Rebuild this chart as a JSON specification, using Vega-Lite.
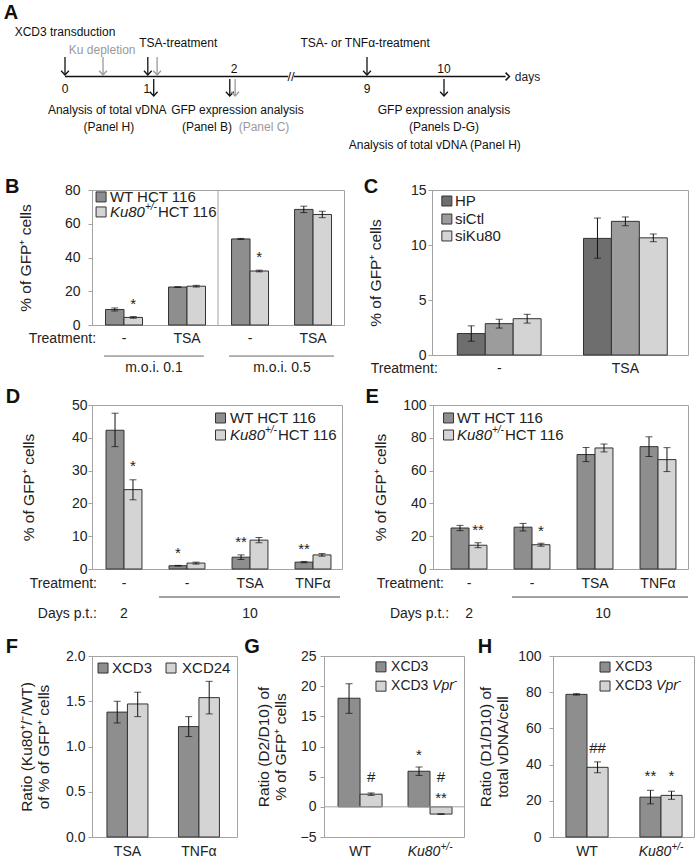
{
"$schema": "https://vega.github.io/schema/vega-lite/v6.json",
"padding": {"left": 3, "top": 0, "right": 0, "bottom": 0},
"columns": 1, "spacing": 23,
"resolve": {"scale": {"color": "independent"}},
"config": {
  "font": "Liberation Sans",
  "view": {"stroke": "#a3a3a3", "strokeWidth": 1},
  "axis": {"labelFont": "Liberation Sans", "labelFontSize": 14, "labelColor": "#222", "labelOverlap": false, "domainColor": "#a3a3a3", "tickColor": "#a3a3a3", "tickSize": 4, "grid": false, "titleFont": "Liberation Sans", "titleFontSize": 15.5, "titleFontWeight": "normal", "titleColor": "#222", "titleLineHeight": 17},
  "text": {"font": "Liberation Sans", "fontSize": 14, "color": "#222"},
  "bar": {"stroke": "#333", "strokeWidth": 1},
  "rule": {"color": "#111"},
  "tick": {"color": "#111"},
  "point": {"shape": "square", "filled": true, "size": 100, "stroke": "#333", "strokeWidth": 1, "opacity": 1}
},
"datasets": {
  "aArr": [
    {"d": 0, "l0": 1.15, "l1": 0.09, "c": "k"}, {"d": 0.45, "l0": 1.15, "l1": 0.09, "c": "g"},
    {"d": 0.98, "l0": 1.15, "l1": 0.09, "c": "k"}, {"d": 1.09, "l0": 1.15, "l1": 0.09, "c": "g"},
    {"d": 9, "l0": 1.15, "l1": 0.09, "c": "k"},
    {"d": 1.05, "l0": -0.15, "l1": -1.15, "c": "k"}, {"d": 1.95, "l0": -0.15, "l1": -1.15, "c": "k"},
    {"d": 2.06, "l0": -0.15, "l1": -1.15, "c": "g"}, {"d": 10, "l0": -0.15, "l1": -1.15, "c": "k"}
  ],
  "aTxt": [
    {"d": 0, "l": 2.62, "t": "XCD3 transduction", "c": "k"},
    {"d": 0.44, "l": 1.56, "t": "Ku depletion", "c": "g"},
    {"d": 1.34, "l": 1.97, "t": "TSA-treatment", "c": "k"},
    {"d": 8.9, "l": 1.97, "t": "TSA- or TNFα-treatment", "c": "k"},
    {"d": 0, "l": -0.74, "t": "0", "c": "k"},
    {"d": 0.97, "l": -0.74, "t": "1", "c": "k"},
    {"d": 2, "l": 0.44, "t": "2", "c": "k"},
    {"d": 9, "l": -0.74, "t": "9", "c": "k"},
    {"d": 10, "l": 0.44, "t": "10", "c": "k"},
    {"d": 0.5, "l": -1.97, "t": "Analysis of total vDNA", "c": "k"},
    {"d": 0.52, "l": -2.97, "t": "(Panel H)", "c": "k"},
    {"d": 2.18, "l": -1.97, "t": "GFP expression analysis", "c": "k"},
    {"d": 1.68, "l": -2.97, "t": "(Panel B)", "c": "k"},
    {"d": 3.58, "l": -2.97, "t": "(Panel C)", "c": "g"},
    {"d": 10, "l": -1.97, "t": "GFP expression analysis", "c": "k"},
    {"d": 10, "l": -2.97, "t": "(Panels D-G)", "c": "k"},
    {"d": 9.88, "l": -4.03, "t": "Analysis of total vDNA (Panel H)", "c": "k"}
  ],
  "bB": [
    {"g": "a", "s": "WT", "v": 9.2, "lo": 8.3, "hi": 10.1}, {"g": "a", "s": "Ku", "v": 4.5, "lo": 4.0, "hi": 5.0},
    {"g": "b", "s": "WT", "v": 22.5, "lo": 22.3, "hi": 22.7}, {"g": "b", "s": "Ku", "v": 23.0, "lo": 22.5, "hi": 23.5},
    {"g": "c", "s": "WT", "v": 51.0, "lo": 50.7, "hi": 51.3}, {"g": "c", "s": "Ku", "v": 32.0, "lo": 31.5, "hi": 32.5},
    {"g": "d", "s": "WT", "v": 68.5, "lo": 66.6, "hi": 70.4}, {"g": "d", "s": "Ku", "v": 65.5, "lo": 63.6, "hi": 67.4}
  ],
  "cB": [
    {"g": "neg", "s": "HP", "v": 1.95, "lo": 1.25, "hi": 2.65}, {"g": "neg", "s": "siCtl", "v": 2.85, "lo": 2.45, "hi": 3.25},
    {"g": "neg", "s": "siKu80", "v": 3.3, "lo": 2.9, "hi": 3.7},
    {"g": "tsa", "s": "HP", "v": 10.6, "lo": 8.8, "hi": 12.45}, {"g": "tsa", "s": "siCtl", "v": 12.15, "lo": 11.75, "hi": 12.55},
    {"g": "tsa", "s": "siKu80", "v": 10.65, "lo": 10.3, "hi": 11.0}
  ],
  "dB": [
    {"g": "a", "s": "WT", "v": 42.3, "lo": 37.3, "hi": 47.5}, {"g": "a", "s": "Ku", "v": 24.2, "lo": 21.1, "hi": 27.2},
    {"g": "b", "s": "WT", "v": 1.0, "lo": 0.9, "hi": 1.1}, {"g": "b", "s": "Ku", "v": 1.8, "lo": 1.5, "hi": 2.1},
    {"g": "c", "s": "WT", "v": 3.6, "lo": 2.9, "hi": 4.3}, {"g": "c", "s": "Ku", "v": 8.8, "lo": 8.0, "hi": 9.6},
    {"g": "d", "s": "WT", "v": 2.1, "lo": 1.9, "hi": 2.3}, {"g": "d", "s": "Ku", "v": 4.3, "lo": 3.9, "hi": 4.7}
  ],
  "eB": [
    {"g": "a", "s": "WT", "v": 25.0, "lo": 23.4, "hi": 26.6}, {"g": "a", "s": "Ku", "v": 14.5, "lo": 13.0, "hi": 16.0},
    {"g": "b", "s": "WT", "v": 25.5, "lo": 23.2, "hi": 27.8}, {"g": "b", "s": "Ku", "v": 14.8, "lo": 13.9, "hi": 15.7},
    {"g": "c", "s": "WT", "v": 69.8, "lo": 65.5, "hi": 74.1}, {"g": "c", "s": "Ku", "v": 73.8, "lo": 71.4, "hi": 76.2},
    {"g": "d", "s": "WT", "v": 74.6, "lo": 68.6, "hi": 80.6}, {"g": "d", "s": "Ku", "v": 66.7, "lo": 59.4, "hi": 74.0}
  ],
  "fB": [
    {"g": "tsa", "s": "XCD3", "v": 1.38, "lo": 1.26, "hi": 1.50}, {"g": "tsa", "s": "XCD24", "v": 1.47, "lo": 1.33, "hi": 1.60},
    {"g": "tnf", "s": "XCD3", "v": 1.22, "lo": 1.11, "hi": 1.33}, {"g": "tnf", "s": "XCD24", "v": 1.54, "lo": 1.36, "hi": 1.72}
  ],
  "gB": [
    {"g": "wt", "s": "XCD3", "v": 18.0, "lo": 15.5, "hi": 20.4}, {"g": "wt", "s": "Vpr", "v": 2.1, "lo": 1.9, "hi": 2.3},
    {"g": "ku", "s": "XCD3", "v": 5.9, "lo": 5.2, "hi": 6.6}, {"g": "ku", "s": "Vpr", "v": -1.2, "lo": -1.25, "hi": -1.15}
  ],
  "hB": [
    {"g": "wt", "s": "XCD3", "v": 78.8, "lo": 78.4, "hi": 79.2}, {"g": "wt", "s": "Vpr", "v": 38.5, "lo": 35.5, "hi": 41.5},
    {"g": "ku", "s": "XCD3", "v": 22.0, "lo": 18.3, "hi": 25.8}, {"g": "ku", "s": "Vpr", "v": 23.0, "lo": 20.8, "hi": 25.3}
  ]
},
"concat": [
{
  "width": 607, "height": 153,
  "view": {"stroke": null},
  "layer": [
    {"data": {"values": [{"d0": 0, "d1": 4.85}, {"d0": 5.15, "d1": 10.8}]},
     "mark": {"type": "rule", "strokeWidth": 1.6, "color": "#111"},
     "encoding": {
       "x": {"field": "d0", "type": "quantitative", "scale": {"domain": [0, 2, 9, 10], "range": [-27, 142, 275, 352], "nice": false, "zero": false}, "axis": null},
       "x2": {"field": "d1"},
       "y": {"datum": 0, "type": "quantitative", "scale": {"domain": [-4.5, 4.5], "nice": false, "zero": false}, "axis": null}}},
    {"data": {"name": "aArr"}, "mark": {"type": "rule", "strokeWidth": 1.3},
     "encoding": {
       "x": {"field": "d", "type": "quantitative", "axis": null},
       "y": {"field": "l0", "type": "quantitative", "axis": null}, "y2": {"field": "l1"},
       "color": {"field": "c", "type": "nominal", "scale": {"domain": ["k", "g"], "range": ["#111", "#9a9a9a"]}, "legend": null}}},
    {"data": {"name": "aArr"}, "mark": {"type": "point", "shape": "M-1,-1.1L0,0L1,-1.1", "filled": false, "size": 60, "strokeWidth": 1.3, "opacity": 1},
     "encoding": {
       "x": {"field": "d", "type": "quantitative", "axis": null},
       "y": {"field": "l1", "type": "quantitative", "axis": null},
       "color": {"field": "c", "type": "nominal", "legend": null}}},
    {"data": {"values": [{}]}, "mark": {"type": "point", "shape": "M-1,-1L0,0L-1,1", "filled": false, "size": 60, "strokeWidth": 1.5, "opacity": 1, "color": "#111"},
     "encoding": {"x": {"datum": 10.85, "axis": null}, "y": {"datum": 0, "axis": null}}},
    {"data": {"name": "aTxt"}, "mark": {"type": "text", "fontSize": 12},
     "encoding": {
       "x": {"field": "d", "type": "quantitative", "axis": null},
       "y": {"field": "l", "type": "quantitative", "axis": null},
       "text": {"field": "t"},
       "color": {"field": "c", "type": "nominal", "legend": null}}},
    {"data": {"values": [{}]}, "mark": {"type": "text", "align": "left", "text": "days", "fontSize": 12},
     "encoding": {"x": {"datum": 10.92, "axis": null}, "y": {"datum": 0, "axis": null}}},
    {"data": {"values": [{}]}, "mark": {"type": "text", "text": "//", "fontSize": 13, "color": "#111"},
     "encoding": {"x": {"datum": 5, "axis": null}, "y": {"datum": 0, "axis": null}}},
    {"data": {"values": [{}]}, "mark": {"type": "text", "text": "A", "fontSize": 20, "fontWeight": "bold", "color": "#111"},
     "encoding": {"x": {"datum": -0.64, "axis": null}, "y": {"datum": 3.74, "axis": null}}}
  ]
},
{
"columns": 1, "spacing": 9,
"resolve": {"scale": {"color": "independent"}},
"concat": [
{
"spacing": 18,
"resolve": {"scale": {"color": "independent"}},
"hconcat": [
{
  "width": 252, "height": 135,
  "resolve": {"scale": {"x": "independent", "xOffset": "independent"}, "axis": {"y": "independent"}},
  "layer": [
    {"data": {"name": "bB"}, "mark": "bar",
     "encoding": {
       "x": {"field": "g", "type": "nominal", "axis": null, "scale": {"type": "band", "domain": ["a", "b", "c", "d"], "paddingInner": 0.413, "paddingOuter": 0.206, "align": 0.52}},
       "xOffset": {"field": "s", "type": "nominal", "scale": {"type": "band", "domain": ["WT", "Ku"]}},
       "y": {"field": "v", "type": "quantitative", "scale": {"domain": [0, 80], "nice": false, "zero": false}, "axis": {"values": [0, 20, 40, 60, 80], "title": "% of GFP⁺ cells", "titlePadding": 31, "labelPadding": 8, "labelOverlap": false}},
       "color": {"field": "s", "type": "nominal", "scale": {"domain": ["WT", "Ku"], "range": ["#8e8e8e", "#d4d4d4"]}, "legend": null}}},
    {"data": {"name": "bB"}, "mark": "rule",
     "encoding": {
       "x": {"field": "g", "type": "nominal", "axis": null, "scale": {"type": "band", "domain": ["a", "b", "c", "d"], "paddingInner": 0.413, "paddingOuter": 0.206, "align": 0.52}},
       "xOffset": {"field": "s", "type": "nominal", "scale": {"type": "band", "domain": ["WT", "Ku"]}},
       "y": {"field": "lo", "type": "quantitative", "axis": null}, "y2": {"field": "hi"}}},
    {"data": {"name": "bB"}, "mark": {"type": "tick", "size": 7, "thickness": 1},
     "encoding": {
       "x": {"field": "g", "type": "nominal", "axis": null, "scale": {"type": "band", "domain": ["a", "b", "c", "d"], "paddingInner": 0.413, "paddingOuter": 0.206, "align": 0.52}},
       "xOffset": {"field": "s", "type": "nominal", "scale": {"type": "band", "domain": ["WT", "Ku"]}},
       "y": {"field": "lo", "type": "quantitative", "axis": null}}},
    {"data": {"name": "bB"}, "mark": {"type": "tick", "size": 7, "thickness": 1},
     "encoding": {
       "x": {"field": "g", "type": "nominal", "axis": null, "scale": {"type": "band", "domain": ["a", "b", "c", "d"], "paddingInner": 0.413, "paddingOuter": 0.206, "align": 0.52}},
       "xOffset": {"field": "s", "type": "nominal", "scale": {"type": "band", "domain": ["WT", "Ku"]}},
       "y": {"field": "hi", "type": "quantitative", "axis": null}}},
    {"data": {"values": [{"g": "a", "s": "Ku", "y": 12.4, "t": "*"}, {"g": "c", "s": "Ku", "y": 40.3, "t": "*"}]}, "mark": {"type": "text", "fontSize": 15},
     "encoding": {
       "x": {"field": "g", "type": "nominal", "axis": null, "scale": {"type": "band", "domain": ["a", "b", "c", "d"], "paddingInner": 0.413, "paddingOuter": 0.206, "align": 0.52}},
       "xOffset": {"field": "s", "type": "nominal", "scale": {"type": "band", "domain": ["WT", "Ku"]}},
       "y": {"field": "y", "type": "quantitative", "axis": null}, "text": {"field": "t"}}},
    {"data": {"values": [{"g": "a", "t": "-"}, {"g": "b", "t": "TSA"}, {"g": "c", "t": "-"}, {"g": "d", "t": "TSA"}]}, "mark": {"type": "text"},
     "encoding": {
       "x": {"field": "g", "type": "nominal", "axis": null, "scale": {"type": "band", "domain": ["a", "b", "c", "d"], "paddingInner": 0.413, "paddingOuter": 0.206, "align": 0.52}},
       "y": {"datum": -8.3, "axis": null}, "text": {"field": "t"}}},
    {"data": {"values": [{}]}, "mark": {"type": "rule", "color": "#a3a3a3"},
     "encoding": {"x": {"datum": 0.5, "type": "quantitative", "scale": {"domain": [0, 1], "nice": false, "zero": false}, "axis": null}, "y": {"datum": 0, "axis": null}, "y2": {"datum": 80}}},
    {"data": {"values": [{}]}, "mark": {"type": "rule", "color": "#666"},
     "encoding": {"x": {"datum": 0.048, "type": "quantitative", "scale": {"domain": [0, 1], "nice": false, "zero": false}, "axis": null}, "x2": {"datum": 0.444}, "y": {"datum": -18.4, "axis": null}}},
    {"data": {"values": [{}]}, "mark": {"type": "rule", "color": "#666"},
     "encoding": {"x": {"datum": 0.544, "type": "quantitative", "scale": {"domain": [0, 1], "nice": false, "zero": false}, "axis": null}, "x2": {"datum": 0.96}, "y": {"datum": -18.4, "axis": null}}},
    {"data": {"values": [{}]}, "mark": {"type": "text", "align": "right", "text": "Treatment:"},
     "encoding": {"x": {"datum": 0.016, "type": "quantitative", "scale": {"domain": [0, 1], "nice": false, "zero": false}, "axis": null}, "y": {"datum": -8.3, "axis": null}}},
    {"data": {"values": [{}]}, "mark": {"type": "text", "text": "m.o.i. 0.1"},
     "encoding": {"x": {"datum": 0.246, "type": "quantitative", "scale": {"domain": [0, 1], "nice": false, "zero": false}, "axis": null}, "y": {"datum": -25.5, "axis": null}}},
    {"data": {"values": [{}]}, "mark": {"type": "text", "text": "m.o.i. 0.5"},
     "encoding": {"x": {"datum": 0.754, "type": "quantitative", "scale": {"domain": [0, 1], "nice": false, "zero": false}, "axis": null}, "y": {"datum": -25.5, "axis": null}}},
    {"data": {"values": [{}]}, "mark": {"type": "text", "text": "B", "fontSize": 20, "fontWeight": "bold", "color": "#111"},
     "encoding": {"x": {"datum": -0.317, "type": "quantitative", "scale": {"domain": [0, 1], "nice": false, "zero": false}, "axis": null}, "y": {"datum": 81.8, "axis": null}}},
    {"data": {"values": [{}]}, "mark": "point",
     "encoding": {"x": {"datum": 0.036, "type": "quantitative", "scale": {"domain": [0, 1], "nice": false, "zero": false}, "axis": null}, "y": {"datum": 75.9, "axis": null}, "color": {"datum": "WT", "legend": null}}},
    {"data": {"values": [{}]}, "mark": "point",
     "encoding": {"x": {"datum": 0.036, "type": "quantitative", "scale": {"domain": [0, 1], "nice": false, "zero": false}, "axis": null}, "y": {"datum": 67.0, "axis": null}, "color": {"datum": "Ku", "legend": null}}},
    {"data": {"values": [{}]}, "mark": {"type": "text", "align": "left", "fontSize": 15, "text": "WT HCT 116"},
     "encoding": {"x": {"datum": 0.071, "type": "quantitative", "scale": {"domain": [0, 1], "nice": false, "zero": false}, "axis": null}, "y": {"datum": 75.9, "axis": null}}},
    {"data": {"values": [{}]}, "mark": {"type": "text", "align": "left", "fontSize": 15, "fontStyle": "italic", "text": "Ku80"},
     "encoding": {"x": {"datum": 0.071, "type": "quantitative", "scale": {"domain": [0, 1], "nice": false, "zero": false}, "axis": null}, "y": {"datum": 67.0, "axis": null}}},
    {"data": {"values": [{}]}, "mark": {"type": "text", "align": "left", "fontSize": 10, "fontStyle": "italic", "text": "+/-", "dx": 35, "dy": -5},
     "encoding": {"x": {"datum": 0.071, "type": "quantitative", "scale": {"domain": [0, 1], "nice": false, "zero": false}, "axis": null}, "y": {"datum": 67.0, "axis": null}}},
    {"data": {"values": [{}]}, "mark": {"type": "text", "align": "left", "fontSize": 15, "text": "HCT 116", "dx": 48},
     "encoding": {"x": {"datum": 0.071, "type": "quantitative", "scale": {"domain": [0, 1], "nice": false, "zero": false}, "axis": null}, "y": {"datum": 67.0, "axis": null}}}
  ]
},
{
  "width": 256, "height": 165,
  "resolve": {"scale": {"x": "independent", "xOffset": "independent"}, "axis": {"y": "independent"}},
  "layer": [
    {"data": {"name": "cB"}, "mark": "bar",
     "encoding": {
       "x": {"field": "g", "type": "nominal", "axis": null, "scale": {"type": "band", "domain": ["neg", "tsa"], "paddingInner": 0.336, "paddingOuter": 0.1825, "align": 0.55}},
       "xOffset": {"field": "s", "type": "nominal", "scale": {"type": "band", "domain": ["HP", "siCtl", "siKu80"]}},
       "y": {"field": "v", "type": "quantitative", "scale": {"domain": [0, 15], "nice": false, "zero": false}, "axis": {"values": [0, 5, 10, 15], "title": "% of GFP⁺ cells", "titlePadding": 27, "labelPadding": 2, "labelOverlap": false}},
       "color": {"field": "s", "type": "nominal", "scale": {"domain": ["HP", "siCtl", "siKu80"], "range": ["#6e6e6e", "#9c9c9c", "#d4d4d4"]}, "legend": null}}},
    {"data": {"name": "cB"}, "mark": "rule",
     "encoding": {
       "x": {"field": "g", "type": "nominal", "axis": null, "scale": {"type": "band", "domain": ["neg", "tsa"], "paddingInner": 0.336, "paddingOuter": 0.1825, "align": 0.55}},
       "xOffset": {"field": "s", "type": "nominal", "scale": {"type": "band", "domain": ["HP", "siCtl", "siKu80"]}},
       "y": {"field": "lo", "type": "quantitative", "axis": null}, "y2": {"field": "hi"}}},
    {"data": {"name": "cB"}, "mark": {"type": "tick", "size": 7, "thickness": 1},
     "encoding": {
       "x": {"field": "g", "type": "nominal", "axis": null, "scale": {"type": "band", "domain": ["neg", "tsa"], "paddingInner": 0.336, "paddingOuter": 0.1825, "align": 0.55}},
       "xOffset": {"field": "s", "type": "nominal", "scale": {"type": "band", "domain": ["HP", "siCtl", "siKu80"]}},
       "y": {"field": "lo", "type": "quantitative", "axis": null}}},
    {"data": {"name": "cB"}, "mark": {"type": "tick", "size": 7, "thickness": 1},
     "encoding": {
       "x": {"field": "g", "type": "nominal", "axis": null, "scale": {"type": "band", "domain": ["neg", "tsa"], "paddingInner": 0.336, "paddingOuter": 0.1825, "align": 0.55}},
       "xOffset": {"field": "s", "type": "nominal", "scale": {"type": "band", "domain": ["HP", "siCtl", "siKu80"]}},
       "y": {"field": "hi", "type": "quantitative", "axis": null}}},
    {"data": {"values": [{"g": "neg", "t": "-"}, {"g": "tsa", "t": "TSA"}]}, "mark": {"type": "text"},
     "encoding": {
       "x": {"field": "g", "type": "nominal", "axis": null, "scale": {"type": "band", "domain": ["neg", "tsa"], "paddingInner": 0.336, "paddingOuter": 0.1825, "align": 0.55}},
       "y": {"datum": -1.27, "axis": null}, "text": {"field": "t"}}},
    {"data": {"values": [{}]}, "mark": {"type": "text", "align": "right", "text": "Treatment:"},
     "encoding": {"x": {"datum": 0.023, "type": "quantitative", "scale": {"domain": [0, 1], "nice": false, "zero": false}, "axis": null}, "y": {"datum": -1.27, "axis": null}}},
    {"data": {"values": [{}]}, "mark": {"type": "text", "text": "C", "fontSize": 20, "fontWeight": "bold", "color": "#111"},
     "encoding": {"x": {"datum": -0.238, "type": "quantitative", "scale": {"domain": [0, 1], "nice": false, "zero": false}, "axis": null}, "y": {"datum": 15.27, "axis": null}}},
    {"data": {"values": [{}]}, "mark": "point",
     "encoding": {"x": {"datum": 0.058, "type": "quantitative", "scale": {"domain": [0, 1], "nice": false, "zero": false}, "axis": null}, "y": {"datum": 14.0, "axis": null}, "color": {"datum": "HP", "legend": null}}},
    {"data": {"values": [{}]}, "mark": "point",
     "encoding": {"x": {"datum": 0.058, "type": "quantitative", "scale": {"domain": [0, 1], "nice": false, "zero": false}, "axis": null}, "y": {"datum": 12.36, "axis": null}, "color": {"datum": "siCtl", "legend": null}}},
    {"data": {"values": [{}]}, "mark": "point",
     "encoding": {"x": {"datum": 0.058, "type": "quantitative", "scale": {"domain": [0, 1], "nice": false, "zero": false}, "axis": null}, "y": {"datum": 10.82, "axis": null}, "color": {"datum": "siKu80", "legend": null}}},
    {"data": {"values": [{}]}, "mark": {"type": "text", "align": "left", "fontSize": 15, "text": "HP"},
     "encoding": {"x": {"datum": 0.09, "type": "quantitative", "scale": {"domain": [0, 1], "nice": false, "zero": false}, "axis": null}, "y": {"datum": 14.0, "axis": null}}},
    {"data": {"values": [{}]}, "mark": {"type": "text", "align": "left", "fontSize": 15, "text": "siCtl"},
     "encoding": {"x": {"datum": 0.09, "type": "quantitative", "scale": {"domain": [0, 1], "nice": false, "zero": false}, "axis": null}, "y": {"datum": 12.36, "axis": null}}},
    {"data": {"values": [{}]}, "mark": {"type": "text", "align": "left", "fontSize": 15, "text": "siKu80"},
     "encoding": {"x": {"datum": 0.09, "type": "quantitative", "scale": {"domain": [0, 1], "nice": false, "zero": false}, "axis": null}, "y": {"datum": 10.82, "axis": null}}}
  ]
}
]
},
{
"columns": 1, "spacing": 14,
"resolve": {"scale": {"color": "independent"}},
"concat": [
{
"spacing": 21,
"resolve": {"scale": {"color": "independent"}},
"hconcat": [
{
  "width": 250, "height": 164,
  "resolve": {"scale": {"x": "independent", "xOffset": "independent"}, "axis": {"y": "independent"}},
  "layer": [
    {"data": {"name": "dB"}, "mark": "bar",
     "encoding": {
       "x": {"field": "g", "type": "nominal", "axis": null, "scale": {"type": "band", "domain": ["a", "b", "c", "d"], "paddingInner": 0.43, "paddingOuter": 0.199, "align": 0.56}},
       "xOffset": {"field": "s", "type": "nominal", "scale": {"type": "band", "domain": ["WT", "Ku"]}},
       "y": {"field": "v", "type": "quantitative", "scale": {"domain": [0, 50], "nice": false, "zero": false}, "axis": {"values": [0, 10, 20, 30, 40, 50], "title": "% of GFP⁺ cells", "titlePadding": 35, "labelPadding": 1, "labelOverlap": false}},
       "color": {"field": "s", "type": "nominal", "scale": {"domain": ["WT", "Ku"], "range": ["#8e8e8e", "#d4d4d4"]}, "legend": null}}},
    {"data": {"name": "dB"}, "mark": "rule",
     "encoding": {
       "x": {"field": "g", "type": "nominal", "axis": null, "scale": {"type": "band", "domain": ["a", "b", "c", "d"], "paddingInner": 0.43, "paddingOuter": 0.199, "align": 0.56}},
       "xOffset": {"field": "s", "type": "nominal", "scale": {"type": "band", "domain": ["WT", "Ku"]}},
       "y": {"field": "lo", "type": "quantitative", "axis": null}, "y2": {"field": "hi"}}},
    {"data": {"name": "dB"}, "mark": {"type": "tick", "size": 7, "thickness": 1},
     "encoding": {
       "x": {"field": "g", "type": "nominal", "axis": null, "scale": {"type": "band", "domain": ["a", "b", "c", "d"], "paddingInner": 0.43, "paddingOuter": 0.199, "align": 0.56}},
       "xOffset": {"field": "s", "type": "nominal", "scale": {"type": "band", "domain": ["WT", "Ku"]}},
       "y": {"field": "lo", "type": "quantitative", "axis": null}}},
    {"data": {"name": "dB"}, "mark": {"type": "tick", "size": 7, "thickness": 1},
     "encoding": {
       "x": {"field": "g", "type": "nominal", "axis": null, "scale": {"type": "band", "domain": ["a", "b", "c", "d"], "paddingInner": 0.43, "paddingOuter": 0.199, "align": 0.56}},
       "xOffset": {"field": "s", "type": "nominal", "scale": {"type": "band", "domain": ["WT", "Ku"]}},
       "y": {"field": "hi", "type": "quantitative", "axis": null}}},
    {"data": {"values": [{"g": "a", "s": "Ku", "y": 31.4, "t": "*"}, {"g": "b", "s": "WT", "y": 4.9, "t": "*"}, {"g": "c", "s": "WT", "y": 8.2, "t": "**"}, {"g": "d", "s": "WT", "y": 6.1, "t": "**"}]}, "mark": {"type": "text", "fontSize": 15},
     "encoding": {
       "x": {"field": "g", "type": "nominal", "axis": null, "scale": {"type": "band", "domain": ["a", "b", "c", "d"], "paddingInner": 0.43, "paddingOuter": 0.199, "align": 0.56}},
       "xOffset": {"field": "s", "type": "nominal", "scale": {"type": "band", "domain": ["WT", "Ku"]}},
       "y": {"field": "y", "type": "quantitative", "axis": null}, "text": {"field": "t"}}},
    {"data": {"values": [{"g": "a", "t": "-"}, {"g": "b", "t": "-"}, {"g": "c", "t": "TSA"}, {"g": "d", "t": "TNFα"}]}, "mark": {"type": "text"},
     "encoding": {
       "x": {"field": "g", "type": "nominal", "axis": null, "scale": {"type": "band", "domain": ["a", "b", "c", "d"], "paddingInner": 0.43, "paddingOuter": 0.199, "align": 0.56}},
       "y": {"datum": -4.57, "axis": null}, "text": {"field": "t"}}},
    {"data": {"values": [{"g": "a", "t": "2"}]}, "mark": {"type": "text"},
     "encoding": {
       "x": {"field": "g", "type": "nominal", "axis": null, "scale": {"type": "band", "domain": ["a", "b", "c", "d"], "paddingInner": 0.43, "paddingOuter": 0.199, "align": 0.56}},
       "y": {"datum": -13.7, "axis": null}, "text": {"field": "t"}}},
    {"data": {"values": [{}]}, "mark": {"type": "rule", "color": "#444"},
     "encoding": {"x": {"datum": 0.268, "type": "quantitative", "scale": {"domain": [0, 1], "nice": false, "zero": false}, "axis": null}, "x2": {"datum": 0.992}, "y": {"datum": -8.54, "axis": null}}},
    {"data": {"values": [{}]}, "mark": {"type": "text", "align": "right", "text": "Treatment:"},
     "encoding": {"x": {"datum": 0.02, "type": "quantitative", "scale": {"domain": [0, 1], "nice": false, "zero": false}, "axis": null}, "y": {"datum": -4.57, "axis": null}}},
    {"data": {"values": [{}]}, "mark": {"type": "text", "align": "right", "text": "Days p.t.:"},
     "encoding": {"x": {"datum": 0.02, "type": "quantitative", "scale": {"domain": [0, 1], "nice": false, "zero": false}, "axis": null}, "y": {"datum": -13.7, "axis": null}}},
    {"data": {"values": [{}]}, "mark": {"type": "text", "text": "10"},
     "encoding": {"x": {"datum": 0.632, "type": "quantitative", "scale": {"domain": [0, 1], "nice": false, "zero": false}, "axis": null}, "y": {"datum": -13.7, "axis": null}}},
    {"data": {"values": [{}]}, "mark": {"type": "text", "text": "D", "fontSize": 20, "fontWeight": "bold", "color": "#111"},
     "encoding": {"x": {"datum": -0.316, "type": "quantitative", "scale": {"domain": [0, 1], "nice": false, "zero": false}, "axis": null}, "y": {"datum": 52.44, "axis": null}}},
    {"data": {"values": [{}]}, "mark": "point",
     "encoding": {"x": {"datum": 0.514, "type": "quantitative", "scale": {"domain": [0, 1], "nice": false, "zero": false}, "axis": null}, "y": {"datum": 46.04, "axis": null}, "color": {"datum": "WT", "legend": null}}},
    {"data": {"values": [{}]}, "mark": "point",
     "encoding": {"x": {"datum": 0.514, "type": "quantitative", "scale": {"domain": [0, 1], "nice": false, "zero": false}, "axis": null}, "y": {"datum": 40.85, "axis": null}, "color": {"datum": "Ku", "legend": null}}},
    {"data": {"values": [{}]}, "mark": {"type": "text", "align": "left", "fontSize": 15, "text": "WT HCT 116"},
     "encoding": {"x": {"datum": 0.552, "type": "quantitative", "scale": {"domain": [0, 1], "nice": false, "zero": false}, "axis": null}, "y": {"datum": 46.04, "axis": null}}},
    {"data": {"values": [{}]}, "mark": {"type": "text", "align": "left", "fontSize": 15, "fontStyle": "italic", "text": "Ku80"},
     "encoding": {"x": {"datum": 0.552, "type": "quantitative", "scale": {"domain": [0, 1], "nice": false, "zero": false}, "axis": null}, "y": {"datum": 40.85, "axis": null}}},
    {"data": {"values": [{}]}, "mark": {"type": "text", "align": "left", "fontSize": 10, "fontStyle": "italic", "text": "+/-", "dx": 35, "dy": -5},
     "encoding": {"x": {"datum": 0.552, "type": "quantitative", "scale": {"domain": [0, 1], "nice": false, "zero": false}, "axis": null}, "y": {"datum": 40.85, "axis": null}}},
    {"data": {"values": [{}]}, "mark": {"type": "text", "align": "left", "fontSize": 15, "text": "HCT 116", "dx": 48},
     "encoding": {"x": {"datum": 0.552, "type": "quantitative", "scale": {"domain": [0, 1], "nice": false, "zero": false}, "axis": null}, "y": {"datum": 40.85, "axis": null}}}
  ]
},
{
  "width": 255, "height": 164,
  "resolve": {"scale": {"x": "independent", "xOffset": "independent"}, "axis": {"y": "independent"}},
  "layer": [
    {"data": {"name": "eB"}, "mark": "bar",
     "encoding": {
       "x": {"field": "g", "type": "nominal", "axis": null, "scale": {"type": "band", "domain": ["a", "b", "c", "d"], "paddingInner": 0.43, "paddingOuter": 0.239, "align": 0.6}},
       "xOffset": {"field": "s", "type": "nominal", "scale": {"type": "band", "domain": ["WT", "Ku"]}},
       "y": {"field": "v", "type": "quantitative", "scale": {"domain": [0, 100], "nice": false, "zero": false}, "axis": {"values": [0, 20, 40, 60, 80, 100], "title": "% of GFP⁺ cells", "titlePadding": 14, "labelPadding": 3, "labelOverlap": false}},
       "color": {"field": "s", "type": "nominal", "scale": {"domain": ["WT", "Ku"], "range": ["#8e8e8e", "#d4d4d4"]}, "legend": null}}},
    {"data": {"name": "eB"}, "mark": "rule",
     "encoding": {
       "x": {"field": "g", "type": "nominal", "axis": null, "scale": {"type": "band", "domain": ["a", "b", "c", "d"], "paddingInner": 0.43, "paddingOuter": 0.239, "align": 0.6}},
       "xOffset": {"field": "s", "type": "nominal", "scale": {"type": "band", "domain": ["WT", "Ku"]}},
       "y": {"field": "lo", "type": "quantitative", "axis": null}, "y2": {"field": "hi"}}},
    {"data": {"name": "eB"}, "mark": {"type": "tick", "size": 7, "thickness": 1},
     "encoding": {
       "x": {"field": "g", "type": "nominal", "axis": null, "scale": {"type": "band", "domain": ["a", "b", "c", "d"], "paddingInner": 0.43, "paddingOuter": 0.239, "align": 0.6}},
       "xOffset": {"field": "s", "type": "nominal", "scale": {"type": "band", "domain": ["WT", "Ku"]}},
       "y": {"field": "lo", "type": "quantitative", "axis": null}}},
    {"data": {"name": "eB"}, "mark": {"type": "tick", "size": 7, "thickness": 1},
     "encoding": {
       "x": {"field": "g", "type": "nominal", "axis": null, "scale": {"type": "band", "domain": ["a", "b", "c", "d"], "paddingInner": 0.43, "paddingOuter": 0.239, "align": 0.6}},
       "xOffset": {"field": "s", "type": "nominal", "scale": {"type": "band", "domain": ["WT", "Ku"]}},
       "y": {"field": "hi", "type": "quantitative", "axis": null}}},
    {"data": {"values": [{"g": "a", "s": "Ku", "y": 23.8, "t": "**"}, {"g": "b", "s": "Ku", "y": 23.2, "t": "*"}]}, "mark": {"type": "text", "fontSize": 15},
     "encoding": {
       "x": {"field": "g", "type": "nominal", "axis": null, "scale": {"type": "band", "domain": ["a", "b", "c", "d"], "paddingInner": 0.43, "paddingOuter": 0.239, "align": 0.6}},
       "xOffset": {"field": "s", "type": "nominal", "scale": {"type": "band", "domain": ["WT", "Ku"]}},
       "y": {"field": "y", "type": "quantitative", "axis": null}, "text": {"field": "t"}}},
    {"data": {"values": [{"g": "a", "t": "-"}, {"g": "b", "t": "-"}, {"g": "c", "t": "TSA"}, {"g": "d", "t": "TNFα"}]}, "mark": {"type": "text"},
     "encoding": {
       "x": {"field": "g", "type": "nominal", "axis": null, "scale": {"type": "band", "domain": ["a", "b", "c", "d"], "paddingInner": 0.43, "paddingOuter": 0.239, "align": 0.6}},
       "y": {"datum": -9.15, "axis": null}, "text": {"field": "t"}}},
    {"data": {"values": [{"g": "a", "t": "2"}]}, "mark": {"type": "text"},
     "encoding": {
       "x": {"field": "g", "type": "nominal", "axis": null, "scale": {"type": "band", "domain": ["a", "b", "c", "d"], "paddingInner": 0.43, "paddingOuter": 0.239, "align": 0.6}},
       "y": {"datum": -27.4, "axis": null}, "text": {"field": "t"}}},
    {"data": {"values": [{}]}, "mark": {"type": "rule", "color": "#444"},
     "encoding": {"x": {"datum": 0.31, "type": "quantitative", "scale": {"domain": [0, 1], "nice": false, "zero": false}, "axis": null}, "x2": {"datum": 1.0}, "y": {"datum": -17.1, "axis": null}}},
    {"data": {"values": [{}]}, "mark": {"type": "text", "align": "right", "text": "Treatment:"},
     "encoding": {"x": {"datum": 0.043, "type": "quantitative", "scale": {"domain": [0, 1], "nice": false, "zero": false}, "axis": null}, "y": {"datum": -9.15, "axis": null}}},
    {"data": {"values": [{}]}, "mark": {"type": "text", "align": "right", "text": "Days p.t.:"},
     "encoding": {"x": {"datum": 0.063, "type": "quantitative", "scale": {"domain": [0, 1], "nice": false, "zero": false}, "axis": null}, "y": {"datum": -27.4, "axis": null}}},
    {"data": {"values": [{}]}, "mark": {"type": "text", "text": "10"},
     "encoding": {"x": {"datum": 0.667, "type": "quantitative", "scale": {"domain": [0, 1], "nice": false, "zero": false}, "axis": null}, "y": {"datum": -27.4, "axis": null}}},
    {"data": {"values": [{}]}, "mark": {"type": "text", "text": "E", "fontSize": 20, "fontWeight": "bold", "color": "#111"},
     "encoding": {"x": {"datum": -0.239, "type": "quantitative", "scale": {"domain": [0, 1], "nice": false, "zero": false}, "axis": null}, "y": {"datum": 104.9, "axis": null}}},
    {"data": {"values": [{}]}, "mark": "point",
     "encoding": {"x": {"datum": 0.061, "type": "quantitative", "scale": {"domain": [0, 1], "nice": false, "zero": false}, "axis": null}, "y": {"datum": 92.1, "axis": null}, "color": {"datum": "WT", "legend": null}}},
    {"data": {"values": [{}]}, "mark": "point",
     "encoding": {"x": {"datum": 0.061, "type": "quantitative", "scale": {"domain": [0, 1], "nice": false, "zero": false}, "axis": null}, "y": {"datum": 81.7, "axis": null}, "color": {"datum": "Ku", "legend": null}}},
    {"data": {"values": [{}]}, "mark": {"type": "text", "align": "left", "fontSize": 15, "text": "WT HCT 116"},
     "encoding": {"x": {"datum": 0.094, "type": "quantitative", "scale": {"domain": [0, 1], "nice": false, "zero": false}, "axis": null}, "y": {"datum": 92.1, "axis": null}}},
    {"data": {"values": [{}]}, "mark": {"type": "text", "align": "left", "fontSize": 15, "fontStyle": "italic", "text": "Ku80"},
     "encoding": {"x": {"datum": 0.094, "type": "quantitative", "scale": {"domain": [0, 1], "nice": false, "zero": false}, "axis": null}, "y": {"datum": 81.7, "axis": null}}},
    {"data": {"values": [{}]}, "mark": {"type": "text", "align": "left", "fontSize": 10, "fontStyle": "italic", "text": "+/-", "dx": 35, "dy": -5},
     "encoding": {"x": {"datum": 0.094, "type": "quantitative", "scale": {"domain": [0, 1], "nice": false, "zero": false}, "axis": null}, "y": {"datum": 81.7, "axis": null}}},
    {"data": {"values": [{}]}, "mark": {"type": "text", "align": "left", "fontSize": 15, "text": "HCT 116", "dx": 48},
     "encoding": {"x": {"datum": 0.094, "type": "quantitative", "scale": {"domain": [0, 1], "nice": false, "zero": false}, "axis": null}, "y": {"datum": 81.7, "axis": null}}}
  ]
}
]
},
{
"spacing": 5,
"resolve": {"scale": {"color": "independent"}},
"hconcat": [
{
  "width": 145, "height": 181,
  "resolve": {"scale": {"x": "independent", "xOffset": "independent"}, "axis": {"y": "independent"}},
  "layer": [
    {"data": {"name": "fB"}, "mark": "bar",
     "encoding": {
       "x": {"field": "g", "type": "nominal", "axis": null, "scale": {"type": "band", "domain": ["tsa", "tnf"], "paddingInner": 0.427, "paddingOuter": 0.2275, "align": 0.46}},
       "xOffset": {"field": "s", "type": "nominal", "scale": {"type": "band", "domain": ["XCD3", "XCD24"]}},
       "y": {"field": "v", "type": "quantitative", "scale": {"domain": [0, 2], "nice": false, "zero": false}, "axis": {"values": [0, 0.5, 1, 1.5, 2], "format": ".1f", "title": ["Ratio (Ku80⁺/⁻/WT)", "of % of GFP⁺ cells"], "titlePadding": 14, "labelPadding": 3, "labelOverlap": false}},
       "color": {"field": "s", "type": "nominal", "scale": {"domain": ["XCD3", "XCD24"], "range": ["#8e8e8e", "#d4d4d4"]}, "legend": null}}},
    {"data": {"name": "fB"}, "mark": "rule",
     "encoding": {
       "x": {"field": "g", "type": "nominal", "axis": null, "scale": {"type": "band", "domain": ["tsa", "tnf"], "paddingInner": 0.427, "paddingOuter": 0.2275, "align": 0.46}},
       "xOffset": {"field": "s", "type": "nominal", "scale": {"type": "band", "domain": ["XCD3", "XCD24"]}},
       "y": {"field": "lo", "type": "quantitative", "axis": null}, "y2": {"field": "hi"}}},
    {"data": {"name": "fB"}, "mark": {"type": "tick", "size": 7, "thickness": 1},
     "encoding": {
       "x": {"field": "g", "type": "nominal", "axis": null, "scale": {"type": "band", "domain": ["tsa", "tnf"], "paddingInner": 0.427, "paddingOuter": 0.2275, "align": 0.46}},
       "xOffset": {"field": "s", "type": "nominal", "scale": {"type": "band", "domain": ["XCD3", "XCD24"]}},
       "y": {"field": "lo", "type": "quantitative", "axis": null}}},
    {"data": {"name": "fB"}, "mark": {"type": "tick", "size": 7, "thickness": 1},
     "encoding": {
       "x": {"field": "g", "type": "nominal", "axis": null, "scale": {"type": "band", "domain": ["tsa", "tnf"], "paddingInner": 0.427, "paddingOuter": 0.2275, "align": 0.46}},
       "xOffset": {"field": "s", "type": "nominal", "scale": {"type": "band", "domain": ["XCD3", "XCD24"]}},
       "y": {"field": "hi", "type": "quantitative", "axis": null}}},
    {"data": {"values": [{"g": "tsa", "t": "TSA"}, {"g": "tnf", "t": "TNFα"}]}, "mark": {"type": "text"},
     "encoding": {
       "x": {"field": "g", "type": "nominal", "axis": null, "scale": {"type": "band", "domain": ["tsa", "tnf"], "paddingInner": 0.427, "paddingOuter": 0.2275, "align": 0.46}},
       "y": {"datum": -0.166, "axis": null}, "text": {"field": "t"}}},
    {"data": {"values": [{}]}, "mark": {"type": "text", "text": "F", "fontSize": 20, "fontWeight": "bold", "color": "#111"},
     "encoding": {"x": {"datum": -0.552, "type": "quantitative", "scale": {"domain": [0, 1], "nice": false, "zero": false}, "axis": null}, "y": {"datum": 2.099, "axis": null}}},
    {"data": {"values": [{}]}, "mark": "point",
     "encoding": {"x": {"datum": 0.076, "type": "quantitative", "scale": {"domain": [0, 1], "nice": false, "zero": false}, "axis": null}, "y": {"datum": 1.867, "axis": null}, "color": {"datum": "XCD3", "legend": null}}},
    {"data": {"values": [{}]}, "mark": "point",
     "encoding": {"x": {"datum": 0.545, "type": "quantitative", "scale": {"domain": [0, 1], "nice": false, "zero": false}, "axis": null}, "y": {"datum": 1.867, "axis": null}, "color": {"datum": "XCD24", "legend": null}}},
    {"data": {"values": [{}]}, "mark": {"type": "text", "align": "left", "fontSize": 15, "text": "XCD3"},
     "encoding": {"x": {"datum": 0.138, "type": "quantitative", "scale": {"domain": [0, 1], "nice": false, "zero": false}, "axis": null}, "y": {"datum": 1.867, "axis": null}}},
    {"data": {"values": [{}]}, "mark": {"type": "text", "align": "left", "fontSize": 15, "text": "XCD24"},
     "encoding": {"x": {"datum": 0.621, "type": "quantitative", "scale": {"domain": [0, 1], "nice": false, "zero": false}, "axis": null}, "y": {"datum": 1.867, "axis": null}}}
  ]
},
{
"spacing": 12,
"resolve": {"scale": {"color": "independent"}},
"hconcat": [
{
  "width": 140, "height": 181,
  "resolve": {"scale": {"x": "independent", "xOffset": "independent"}, "axis": {"y": "independent"}},
  "layer": [
    {"data": {"name": "gB"}, "mark": "bar",
     "encoding": {
       "x": {"field": "g", "type": "nominal", "axis": null, "scale": {"type": "band", "domain": ["wt", "ku"], "paddingInner": 0.371, "paddingOuter": 0.186, "align": 0.54}},
       "xOffset": {"field": "s", "type": "nominal", "scale": {"type": "band", "domain": ["XCD3", "Vpr"]}},
       "y": {"field": "v", "type": "quantitative", "scale": {"domain": [-5, 25], "nice": false, "zero": false}, "axis": {"values": [-5, 0, 5, 10, 15, 20, 25], "title": ["Ratio (D2/D10) of", "% of GFP⁺ cells"], "titlePadding": 12, "labelPadding": 4, "labelOverlap": false}},
       "color": {"field": "s", "type": "nominal", "scale": {"domain": ["XCD3", "Vpr"], "range": ["#8e8e8e", "#d4d4d4"]}, "legend": null}}},
    {"data": {"values": [{}]}, "mark": {"type": "rule", "color": "#a3a3a3"},
     "encoding": {"y": {"datum": 0, "axis": null}}},
    {"data": {"name": "gB"}, "mark": "rule",
     "encoding": {
       "x": {"field": "g", "type": "nominal", "axis": null, "scale": {"type": "band", "domain": ["wt", "ku"], "paddingInner": 0.371, "paddingOuter": 0.186, "align": 0.54}},
       "xOffset": {"field": "s", "type": "nominal", "scale": {"type": "band", "domain": ["XCD3", "Vpr"]}},
       "y": {"field": "lo", "type": "quantitative", "axis": null}, "y2": {"field": "hi"}}},
    {"data": {"name": "gB"}, "mark": {"type": "tick", "size": 7, "thickness": 1},
     "encoding": {
       "x": {"field": "g", "type": "nominal", "axis": null, "scale": {"type": "band", "domain": ["wt", "ku"], "paddingInner": 0.371, "paddingOuter": 0.186, "align": 0.54}},
       "xOffset": {"field": "s", "type": "nominal", "scale": {"type": "band", "domain": ["XCD3", "Vpr"]}},
       "y": {"field": "lo", "type": "quantitative", "axis": null}}},
    {"data": {"name": "gB"}, "mark": {"type": "tick", "size": 7, "thickness": 1},
     "encoding": {
       "x": {"field": "g", "type": "nominal", "axis": null, "scale": {"type": "band", "domain": ["wt", "ku"], "paddingInner": 0.371, "paddingOuter": 0.186, "align": 0.54}},
       "xOffset": {"field": "s", "type": "nominal", "scale": {"type": "band", "domain": ["XCD3", "Vpr"]}},
       "y": {"field": "hi", "type": "quantitative", "axis": null}}},
    {"data": {"values": [{"g": "wt", "s": "Vpr", "y": 4.9, "t": "#"}, {"g": "ku", "s": "XCD3", "y": 8.6, "t": "*"}, {"g": "ku", "s": "Vpr", "y": 4.9, "t": "#"}, {"g": "ku", "s": "Vpr", "y": 1.5, "t": "**"}]}, "mark": {"type": "text", "fontSize": 15},
     "encoding": {
       "x": {"field": "g", "type": "nominal", "axis": null, "scale": {"type": "band", "domain": ["wt", "ku"], "paddingInner": 0.371, "paddingOuter": 0.186, "align": 0.54}},
       "xOffset": {"field": "s", "type": "nominal", "scale": {"type": "band", "domain": ["XCD3", "Vpr"]}},
       "y": {"field": "y", "type": "quantitative", "axis": null}, "text": {"field": "t"}}},
    {"data": {"values": [{"g": "wt"}]}, "mark": {"type": "text", "text": "WT"},
     "encoding": {
       "x": {"field": "g", "type": "nominal", "axis": null, "scale": {"type": "band", "domain": ["wt", "ku"], "paddingInner": 0.371, "paddingOuter": 0.186, "align": 0.54}},
       "y": {"datum": -7.5, "axis": null}}},
    {"data": {"values": [{"g": "ku"}]}, "mark": {"type": "text", "text": "Ku80", "fontStyle": "italic", "dx": -6},
     "encoding": {
       "x": {"field": "g", "type": "nominal", "axis": null, "scale": {"type": "band", "domain": ["wt", "ku"], "paddingInner": 0.371, "paddingOuter": 0.186, "align": 0.54}},
       "y": {"datum": -7.5, "axis": null}}},
    {"data": {"values": [{"g": "ku"}]}, "mark": {"type": "text", "text": "+/-", "fontStyle": "italic", "fontSize": 10, "align": "left", "dx": 10.5, "dy": -5},
     "encoding": {
       "x": {"field": "g", "type": "nominal", "axis": null, "scale": {"type": "band", "domain": ["wt", "ku"], "paddingInner": 0.371, "paddingOuter": 0.186, "align": 0.54}},
       "y": {"datum": -7.5, "axis": null}}},
    {"data": {"values": [{}]}, "mark": {"type": "text", "text": "G", "fontSize": 20, "fontWeight": "bold", "color": "#111"},
     "encoding": {"x": {"datum": -0.514, "type": "quantitative", "scale": {"domain": [0, 1], "nice": false, "zero": false}, "axis": null}, "y": {"datum": 26.49, "axis": null}}},
    {"data": {"values": [{}]}, "mark": "point",
     "encoding": {"x": {"datum": 0.407, "type": "quantitative", "scale": {"domain": [0, 1], "nice": false, "zero": false}, "axis": null}, "y": {"datum": 23.2, "axis": null}, "color": {"datum": "XCD3", "legend": null}}},
    {"data": {"values": [{}]}, "mark": "point",
     "encoding": {"x": {"datum": 0.407, "type": "quantitative", "scale": {"domain": [0, 1], "nice": false, "zero": false}, "axis": null}, "y": {"datum": 20.0, "axis": null}, "color": {"datum": "Vpr", "legend": null}}},
    {"data": {"values": [{}]}, "mark": {"type": "text", "align": "left", "text": "XCD3"},
     "encoding": {"x": {"datum": 0.479, "type": "quantitative", "scale": {"domain": [0, 1], "nice": false, "zero": false}, "axis": null}, "y": {"datum": 23.2, "axis": null}}},
    {"data": {"values": [{}]}, "mark": {"type": "text", "align": "left", "text": "XCD3"},
     "encoding": {"x": {"datum": 0.479, "type": "quantitative", "scale": {"domain": [0, 1], "nice": false, "zero": false}, "axis": null}, "y": {"datum": 20.0, "axis": null}}},
    {"data": {"values": [{}]}, "mark": {"type": "text", "align": "left", "fontStyle": "italic", "text": "Vpr", "dx": 41},
     "encoding": {"x": {"datum": 0.479, "type": "quantitative", "scale": {"domain": [0, 1], "nice": false, "zero": false}, "axis": null}, "y": {"datum": 20.0, "axis": null}}},
    {"data": {"values": [{}]}, "mark": {"type": "text", "align": "left", "fontSize": 10, "text": "-", "dx": 63, "dy": -5},
     "encoding": {"x": {"datum": 0.479, "type": "quantitative", "scale": {"domain": [0, 1], "nice": false, "zero": false}, "axis": null}, "y": {"datum": 20.0, "axis": null}}}
  ]
},
{
  "width": 141, "height": 181,
  "resolve": {"scale": {"x": "independent", "xOffset": "independent"}, "axis": {"y": "independent"}},
  "layer": [
    {"data": {"name": "hB"}, "mark": "bar",
     "encoding": {
       "x": {"field": "g", "type": "nominal", "axis": null, "scale": {"type": "band", "domain": ["wt", "ku"], "paddingInner": 0.43, "paddingOuter": 0.168, "align": 0.52}},
       "xOffset": {"field": "s", "type": "nominal", "scale": {"type": "band", "domain": ["XCD3", "Vpr"]}},
       "y": {"field": "v", "type": "quantitative", "scale": {"domain": [0, 100], "nice": false, "zero": false}, "axis": {"values": [0, 20, 40, 60, 80, 100], "title": ["Ratio (D1/D10) of", "total vDNA/cell"], "titlePadding": 7, "labelPadding": 8, "labelOverlap": false}},
       "color": {"field": "s", "type": "nominal", "scale": {"domain": ["XCD3", "Vpr"], "range": ["#8e8e8e", "#d4d4d4"]}, "legend": null}}},
    {"data": {"name": "hB"}, "mark": "rule",
     "encoding": {
       "x": {"field": "g", "type": "nominal", "axis": null, "scale": {"type": "band", "domain": ["wt", "ku"], "paddingInner": 0.43, "paddingOuter": 0.168, "align": 0.52}},
       "xOffset": {"field": "s", "type": "nominal", "scale": {"type": "band", "domain": ["XCD3", "Vpr"]}},
       "y": {"field": "lo", "type": "quantitative", "axis": null}, "y2": {"field": "hi"}}},
    {"data": {"name": "hB"}, "mark": {"type": "tick", "size": 7, "thickness": 1},
     "encoding": {
       "x": {"field": "g", "type": "nominal", "axis": null, "scale": {"type": "band", "domain": ["wt", "ku"], "paddingInner": 0.43, "paddingOuter": 0.168, "align": 0.52}},
       "xOffset": {"field": "s", "type": "nominal", "scale": {"type": "band", "domain": ["XCD3", "Vpr"]}},
       "y": {"field": "lo", "type": "quantitative", "axis": null}}},
    {"data": {"name": "hB"}, "mark": {"type": "tick", "size": 7, "thickness": 1},
     "encoding": {
       "x": {"field": "g", "type": "nominal", "axis": null, "scale": {"type": "band", "domain": ["wt", "ku"], "paddingInner": 0.43, "paddingOuter": 0.168, "align": 0.52}},
       "xOffset": {"field": "s", "type": "nominal", "scale": {"type": "band", "domain": ["XCD3", "Vpr"]}},
       "y": {"field": "hi", "type": "quantitative", "axis": null}}},
    {"data": {"values": [{"g": "wt", "s": "Vpr", "y": 49.2, "t": "##"}, {"g": "ku", "s": "XCD3", "y": 33.7, "t": "**"}, {"g": "ku", "s": "Vpr", "y": 33.7, "t": "*"}]}, "mark": {"type": "text", "fontSize": 15},
     "encoding": {
       "x": {"field": "g", "type": "nominal", "axis": null, "scale": {"type": "band", "domain": ["wt", "ku"], "paddingInner": 0.43, "paddingOuter": 0.168, "align": 0.52}},
       "xOffset": {"field": "s", "type": "nominal", "scale": {"type": "band", "domain": ["XCD3", "Vpr"]}},
       "y": {"field": "y", "type": "quantitative", "axis": null}, "text": {"field": "t"}}},
    {"data": {"values": [{"g": "wt"}]}, "mark": {"type": "text", "text": "WT"},
     "encoding": {
       "x": {"field": "g", "type": "nominal", "axis": null, "scale": {"type": "band", "domain": ["wt", "ku"], "paddingInner": 0.43, "paddingOuter": 0.168, "align": 0.52}},
       "y": {"datum": -8.3, "axis": null}}},
    {"data": {"values": [{"g": "ku"}]}, "mark": {"type": "text", "text": "Ku80", "fontStyle": "italic", "dx": -6},
     "encoding": {
       "x": {"field": "g", "type": "nominal", "axis": null, "scale": {"type": "band", "domain": ["wt", "ku"], "paddingInner": 0.43, "paddingOuter": 0.168, "align": 0.52}},
       "y": {"datum": -8.3, "axis": null}}},
    {"data": {"values": [{"g": "ku"}]}, "mark": {"type": "text", "text": "+/-", "fontStyle": "italic", "fontSize": 10, "align": "left", "dx": 10.5, "dy": -5},
     "encoding": {
       "x": {"field": "g", "type": "nominal", "axis": null, "scale": {"type": "band", "domain": ["wt", "ku"], "paddingInner": 0.43, "paddingOuter": 0.168, "align": 0.52}},
       "y": {"datum": -8.3, "axis": null}}},
    {"data": {"values": [{}]}, "mark": {"type": "text", "text": "H", "fontSize": 20, "fontWeight": "bold", "color": "#111"},
     "encoding": {"x": {"datum": -0.482, "type": "quantitative", "scale": {"domain": [0, 1], "nice": false, "zero": false}, "axis": null}, "y": {"datum": 104.97, "axis": null}}},
    {"data": {"values": [{}]}, "mark": "point",
     "encoding": {"x": {"datum": 0.369, "type": "quantitative", "scale": {"domain": [0, 1], "nice": false, "zero": false}, "axis": null}, "y": {"datum": 93.9, "axis": null}, "color": {"datum": "XCD3", "legend": null}}},
    {"data": {"values": [{}]}, "mark": "point",
     "encoding": {"x": {"datum": 0.369, "type": "quantitative", "scale": {"domain": [0, 1], "nice": false, "zero": false}, "axis": null}, "y": {"datum": 83.4, "axis": null}, "color": {"datum": "Vpr", "legend": null}}},
    {"data": {"values": [{}]}, "mark": {"type": "text", "align": "left", "text": "XCD3"},
     "encoding": {"x": {"datum": 0.44, "type": "quantitative", "scale": {"domain": [0, 1], "nice": false, "zero": false}, "axis": null}, "y": {"datum": 93.9, "axis": null}}},
    {"data": {"values": [{}]}, "mark": {"type": "text", "align": "left", "text": "XCD3"},
     "encoding": {"x": {"datum": 0.44, "type": "quantitative", "scale": {"domain": [0, 1], "nice": false, "zero": false}, "axis": null}, "y": {"datum": 83.4, "axis": null}}},
    {"data": {"values": [{}]}, "mark": {"type": "text", "align": "left", "fontStyle": "italic", "text": "Vpr", "dx": 41},
     "encoding": {"x": {"datum": 0.44, "type": "quantitative", "scale": {"domain": [0, 1], "nice": false, "zero": false}, "axis": null}, "y": {"datum": 83.4, "axis": null}}},
    {"data": {"values": [{}]}, "mark": {"type": "text", "align": "left", "fontSize": 10, "text": "-", "dx": 63, "dy": -5},
     "encoding": {"x": {"datum": 0.44, "type": "quantitative", "scale": {"domain": [0, 1], "nice": false, "zero": false}, "axis": null}, "y": {"datum": 83.4, "axis": null}}}
  ]
}
]
}
]
}
]
}
]
}
]
}
